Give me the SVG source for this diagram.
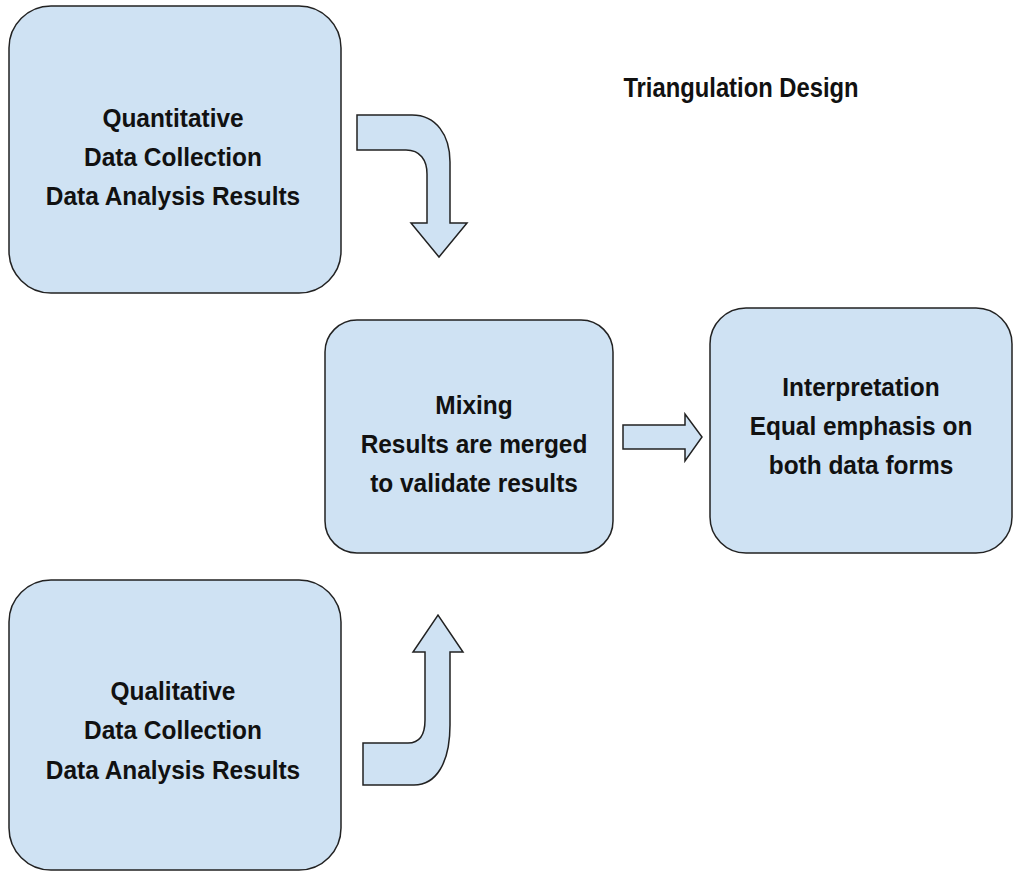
<svg xmlns="http://www.w3.org/2000/svg" width="1013" height="878" viewBox="0 0 1013 878">
<style>
.box{fill:#cfe2f3;stroke:#222;stroke-width:1.5}
.arr{fill:#cfe2f3;stroke:#222;stroke-width:1.5;stroke-linejoin:miter}
text{font-family:"Liberation Sans",Arial,sans-serif;font-weight:bold;font-size:26px;fill:#111;text-anchor:middle}
.ttl{font-size:28px}
</style>
<rect width="1013" height="878" fill="#ffffff"/>
<g id="title"><text class="ttl" transform="matrix(0.85 0 0 1 741 0)" x="0" y="97">Triangulation Design</text></g>
<g id="quantitative">
<rect class="box" x="9" y="6" width="332" height="287" rx="42" ry="42"/>
<g transform="matrix(0.94 0 0 1 173 0)">
<text x="0" y="127">Quantitative</text>
<text x="0" y="166">Data Collection</text>
<text x="0" y="205">Data Analysis Results</text>
</g>
</g>
<g id="mixing">
<rect class="box" x="325" y="320" width="288" height="233" rx="32" ry="32"/>
<g transform="matrix(0.94 0 0 1 474 0)">
<text x="0" y="414">Mixing</text>
<text x="0" y="453">Results are merged</text>
<text x="0" y="492">to validate results</text>
</g>
</g>
<g id="interpretation">
<rect class="box" x="710" y="308" width="302" height="245" rx="36" ry="36"/>
<g transform="matrix(0.94 0 0 1 861 0)">
<text x="0" y="396">Interpretation</text>
<text x="0" y="435">Equal emphasis on</text>
<text x="0" y="474">both data forms</text>
</g>
</g>
<g id="qualitative">
<rect class="box" x="9" y="580" width="332" height="290" rx="42" ry="42"/>
<g transform="matrix(0.94 0 0 1 173 0)">
<text x="0" y="700">Qualitative</text>
<text x="0" y="739.5">Data Collection</text>
<text x="0" y="779">Data Analysis Results</text>
</g>
</g>
<g id="connectors">
<path class="arr" d="M357,115 L412,115 C436,115 450,135 450,162 L450,223 L467,223 L439,257 L411,223 L427,223 L427,174 C427,160 420,150 406,150 L357,150 Z"/>
<path class="arr" d="M363,743 L408,743 C419,743 425,735 425,720 L425,652 L413,652 L438,615 L463,652 L450,652 L450,725 C450,763 436,785 414,785 L363,785 Z"/>
<path class="arr" d="M623,425 L685,425 L685,414 L702,437 L685,461 L685,449 L623,449 Z"/>
</g>
</svg>
